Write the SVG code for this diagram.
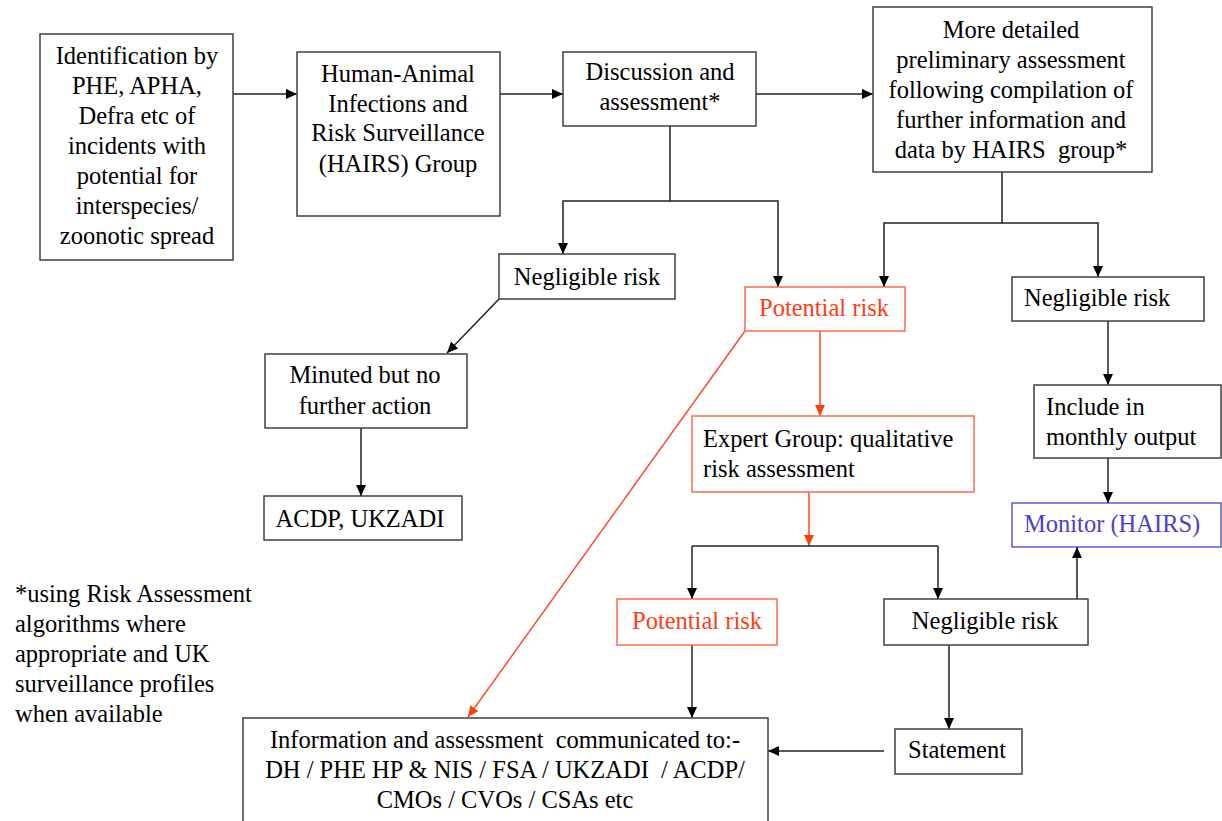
<svg xmlns="http://www.w3.org/2000/svg" width="1222" height="821" viewBox="0 0 1222 821">
<style>
text{font-family:"Liberation Serif","Times New Roman",serif;font-size:24.5px;fill:#000;white-space:pre}
.c{text-anchor:middle}
.box{fill:#fff;stroke:#404040;stroke-width:1.5}
.rbox{fill:#fff;stroke:#FF6A4D;stroke-width:1.5}
.bbox{fill:#fff;stroke:#3333CC;stroke-width:1.2}
.rt{fill:#FF3D14}
.bt{fill:#4A3FD0}
.ln{fill:none;stroke:#222;stroke-width:1.5}
.rl{fill:none;stroke:#FF4A26;stroke-width:1.5}
</style>
<defs>
<marker id="ah" markerUnits="userSpaceOnUse" markerWidth="12" markerHeight="12" refX="11" refY="6" orient="auto"><path d="M0,1 L11,6 L0,11 z" fill="#000"/></marker>
<marker id="rah" markerUnits="userSpaceOnUse" markerWidth="12" markerHeight="12" refX="11" refY="6" orient="auto"><path d="M0,1 L11,6 L0,11 z" fill="#FF3D0A"/></marker>
</defs>
<rect width="1222" height="821" fill="#fff"/>

<g id="connectors">
<line class="ln" x1="233" y1="94" x2="297" y2="94" marker-end="url(#ah)"/>
<line class="ln" x1="500" y1="94" x2="563" y2="94" marker-end="url(#ah)"/>
<line class="ln" x1="756" y1="94" x2="873" y2="94" marker-end="url(#ah)"/>
<polyline class="ln" points="670,126 670,201 563,201 563,254" marker-end="url(#ah)"/>
<polyline class="ln" points="670,201 778,201 778,287" marker-end="url(#ah)"/>
<polyline class="ln" points="1002,172 1002,223 884,223 884,287" marker-end="url(#ah)"/>
<polyline class="ln" points="1002,223 1098,223 1098,277" marker-end="url(#ah)"/>
<line class="ln" x1="499" y1="299" x2="447" y2="353" marker-end="url(#ah)"/>
<line class="ln" x1="361" y1="428" x2="361" y2="496" marker-end="url(#ah)"/>
<line class="rl" x1="820" y1="331" x2="820" y2="416" marker-end="url(#rah)"/>
<line class="rl" x1="745" y1="331" x2="468" y2="717" marker-end="url(#rah)"/>
<line class="rl" x1="809" y1="492" x2="809" y2="546" marker-end="url(#rah)"/>
<polyline class="ln" points="692,546 938,546"/>
<line class="ln" x1="692" y1="546" x2="692" y2="599" marker-end="url(#ah)"/>
<line class="ln" x1="938" y1="546" x2="938" y2="599" marker-end="url(#ah)"/>
<line class="ln" x1="1108" y1="321" x2="1108" y2="385" marker-end="url(#ah)"/>
<line class="ln" x1="1108" y1="458" x2="1108" y2="503" marker-end="url(#ah)"/>
<line class="ln" x1="1077" y1="599" x2="1077" y2="547" marker-end="url(#ah)"/>
<line class="ln" x1="692" y1="645" x2="692" y2="718" marker-end="url(#ah)"/>
<line class="ln" x1="949" y1="645" x2="949" y2="729" marker-end="url(#ah)"/>
<line class="ln" x1="884" y1="751" x2="768" y2="751" marker-end="url(#ah)"/>
</g>

<g id="identification">
<rect class="box" x="40" y="34" width="193" height="226"/>
<text class="c" x="137" y="64">Identification by</text>
<text class="c" x="137" y="94">PHE, APHA,</text>
<text class="c" x="137" y="124">Defra etc of</text>
<text class="c" x="137" y="154">incidents with</text>
<text class="c" x="137" y="184">potential for</text>
<text class="c" x="137" y="214">interspecies/</text>
<text class="c" x="137" y="244">zoonotic spread</text>
</g>

<g id="hairs">
<rect class="box" x="297" y="52" width="203" height="164"/>
<text class="c" x="398" y="82">Human-Animal</text>
<text class="c" x="398" y="112">Infections and</text>
<text class="c" x="398" y="141">Risk Surveillance</text>
<text class="c" x="398" y="172">(HAIRS) Group</text>
</g>

<g id="discussion">
<rect class="box" x="563" y="52" width="193" height="74"/>
<text class="c" x="660" y="80">Discussion and</text>
<text class="c" x="660" y="110">assessment*</text>
</g>

<g id="detailed">
<rect class="box" x="873" y="7" width="279" height="165"/>
<text class="c" x="1011" y="38">More detailed</text>
<text class="c" x="1011" y="68">preliminary assessment</text>
<text class="c" x="1011" y="98">following compilation of</text>
<text class="c" x="1011" y="128">further information and</text>
<text class="c" x="1011" y="158">data by HAIRS  group*</text>
</g>

<g id="negligible1">
<rect class="box" x="499" y="254" width="176" height="45"/>
<text class="c" x="587" y="285">Negligible risk</text>
</g>

<g id="potential1">
<rect class="rbox" x="745" y="287" width="160" height="44"/>
<text class="c rt" x="824" y="316">Potential risk</text>
</g>

<g id="negligible2">
<rect class="box" x="1012" y="277" width="192" height="44"/>
<text x="1024" y="306">Negligible risk</text>
</g>

<g id="minuted">
<rect class="box" x="265" y="354" width="202" height="74"/>
<text class="c" x="365" y="383">Minuted but no</text>
<text class="c" x="365" y="414">further action</text>
</g>

<g id="acdp">
<rect class="box" x="264" y="496" width="198" height="44"/>
<text class="c" x="360" y="527">ACDP, UKZADI</text>
</g>

<g id="expert">
<rect class="rbox" x="692" y="416" width="282" height="76"/>
<text x="703" y="447">Expert Group: qualitative</text>
<text x="703" y="477">risk assessment</text>
</g>

<g id="include">
<rect class="box" x="1034" y="385" width="187" height="73"/>
<text x="1046" y="415">Include in</text>
<text x="1046" y="445">monthly output</text>
</g>

<g id="monitor">
<rect class="bbox" x="1012" y="503" width="209" height="44"/>
<text class="bt" x="1024" y="532">Monitor (HAIRS)</text>
</g>

<g id="potential2">
<rect class="rbox" x="617" y="599" width="160" height="46"/>
<text class="c rt" x="697" y="629">Potential risk</text>
</g>

<g id="negligible3">
<rect class="box" x="884" y="599" width="204" height="46"/>
<text class="c" x="985" y="629">Negligible risk</text>
</g>

<g id="statement">
<rect class="box" x="895" y="729" width="127" height="45"/>
<text class="c" x="957" y="758">Statement</text>
</g>

<g id="communicated">
<rect class="box" x="243" y="718" width="525" height="110"/>
<text class="c" x="505" y="748">Information and assessment  communicated to:-</text>
<text class="c" x="505" y="778">DH / PHE HP &amp; NIS / FSA / UKZADI  / ACDP/</text>
<text class="c" x="505" y="808">CMOs / CVOs / CSAs etc</text>
</g>

<g id="footnote">
<text x="15" y="602">*using Risk Assessment</text>
<text x="15" y="632">algorithms where</text>
<text x="15" y="662">appropriate and UK</text>
<text x="15" y="692">surveillance profiles</text>
<text x="15" y="722">when available</text>
</g>
</svg>
